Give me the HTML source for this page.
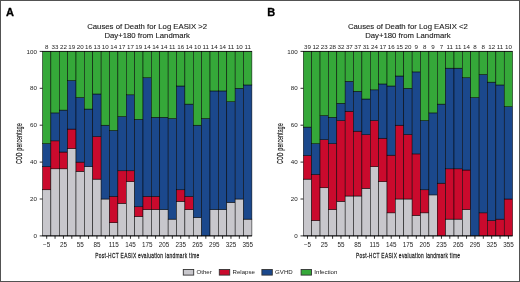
<!DOCTYPE html>
<html><head><meta charset="utf-8"><style>
html,body{margin:0;padding:0;background:#fff;}
body{width:520px;height:282px;overflow:hidden;}
svg{display:block;will-change:transform;}
text{font-family:"Liberation Sans", sans-serif;}
</style></head><body>
<svg width="520" height="282" viewBox="0 0 520 282" font-family="Liberation Sans, sans-serif">
<rect x="0" y="0" width="520" height="282" fill="#fff"/>
<g>
<rect x="42.50" y="189.78" width="8.38" height="46.12" fill="#c8c7cc" stroke="#000" stroke-width="0.5"/>
<rect x="42.50" y="166.71" width="8.38" height="23.06" fill="#ca0a2d" stroke="#000" stroke-width="0.5"/>
<rect x="42.50" y="143.65" width="8.38" height="23.06" fill="#1b488c" stroke="#000" stroke-width="0.5"/>
<rect x="42.50" y="51.40" width="8.38" height="92.25" fill="#35a839" stroke="#000" stroke-width="0.5"/>
<rect x="50.88" y="168.81" width="8.38" height="67.09" fill="#c8c7cc" stroke="#000" stroke-width="0.5"/>
<rect x="50.88" y="140.85" width="8.38" height="27.95" fill="#ca0a2d" stroke="#000" stroke-width="0.5"/>
<rect x="50.88" y="112.90" width="8.38" height="27.95" fill="#1b488c" stroke="#000" stroke-width="0.5"/>
<rect x="50.88" y="51.40" width="8.38" height="61.50" fill="#35a839" stroke="#000" stroke-width="0.5"/>
<rect x="59.25" y="168.81" width="8.38" height="67.09" fill="#c8c7cc" stroke="#000" stroke-width="0.5"/>
<rect x="59.25" y="152.04" width="8.38" height="16.77" fill="#ca0a2d" stroke="#000" stroke-width="0.5"/>
<rect x="59.25" y="110.10" width="8.38" height="41.93" fill="#1b488c" stroke="#000" stroke-width="0.5"/>
<rect x="59.25" y="51.40" width="8.38" height="58.70" fill="#35a839" stroke="#000" stroke-width="0.5"/>
<rect x="67.63" y="148.51" width="8.38" height="87.39" fill="#c8c7cc" stroke="#000" stroke-width="0.5"/>
<rect x="67.63" y="129.08" width="8.38" height="19.42" fill="#ca0a2d" stroke="#000" stroke-width="0.5"/>
<rect x="67.63" y="80.53" width="8.38" height="48.55" fill="#1b488c" stroke="#000" stroke-width="0.5"/>
<rect x="67.63" y="51.40" width="8.38" height="29.13" fill="#35a839" stroke="#000" stroke-width="0.5"/>
<rect x="76.00" y="171.32" width="8.38" height="64.58" fill="#c8c7cc" stroke="#000" stroke-width="0.5"/>
<rect x="76.00" y="162.10" width="8.38" height="9.22" fill="#ca0a2d" stroke="#000" stroke-width="0.5"/>
<rect x="76.00" y="97.53" width="8.38" height="64.58" fill="#1b488c" stroke="#000" stroke-width="0.5"/>
<rect x="76.00" y="51.40" width="8.38" height="46.12" fill="#35a839" stroke="#000" stroke-width="0.5"/>
<rect x="84.38" y="166.71" width="8.38" height="69.19" fill="#c8c7cc" stroke="#000" stroke-width="0.5"/>
<rect x="84.38" y="109.06" width="8.38" height="57.66" fill="#1b488c" stroke="#000" stroke-width="0.5"/>
<rect x="84.38" y="51.40" width="8.38" height="57.66" fill="#35a839" stroke="#000" stroke-width="0.5"/>
<rect x="92.76" y="179.13" width="8.38" height="56.77" fill="#c8c7cc" stroke="#000" stroke-width="0.5"/>
<rect x="92.76" y="136.55" width="8.38" height="42.58" fill="#ca0a2d" stroke="#000" stroke-width="0.5"/>
<rect x="92.76" y="93.98" width="8.38" height="42.58" fill="#1b488c" stroke="#000" stroke-width="0.5"/>
<rect x="92.76" y="51.40" width="8.38" height="42.58" fill="#35a839" stroke="#000" stroke-width="0.5"/>
<rect x="101.13" y="199.00" width="8.38" height="36.90" fill="#c8c7cc" stroke="#000" stroke-width="0.5"/>
<rect x="101.13" y="125.20" width="8.38" height="73.80" fill="#1b488c" stroke="#000" stroke-width="0.5"/>
<rect x="101.13" y="51.40" width="8.38" height="73.80" fill="#35a839" stroke="#000" stroke-width="0.5"/>
<rect x="109.51" y="222.72" width="8.38" height="13.18" fill="#c8c7cc" stroke="#000" stroke-width="0.5"/>
<rect x="109.51" y="196.36" width="8.38" height="26.36" fill="#ca0a2d" stroke="#000" stroke-width="0.5"/>
<rect x="109.51" y="130.47" width="8.38" height="65.89" fill="#1b488c" stroke="#000" stroke-width="0.5"/>
<rect x="109.51" y="51.40" width="8.38" height="79.07" fill="#35a839" stroke="#000" stroke-width="0.5"/>
<rect x="117.88" y="203.34" width="8.38" height="32.56" fill="#c8c7cc" stroke="#000" stroke-width="0.5"/>
<rect x="117.88" y="170.78" width="8.38" height="32.56" fill="#ca0a2d" stroke="#000" stroke-width="0.5"/>
<rect x="117.88" y="116.52" width="8.38" height="54.26" fill="#1b488c" stroke="#000" stroke-width="0.5"/>
<rect x="117.88" y="51.40" width="8.38" height="65.12" fill="#35a839" stroke="#000" stroke-width="0.5"/>
<rect x="126.26" y="181.64" width="8.38" height="54.26" fill="#c8c7cc" stroke="#000" stroke-width="0.5"/>
<rect x="126.26" y="170.78" width="8.38" height="10.85" fill="#ca0a2d" stroke="#000" stroke-width="0.5"/>
<rect x="126.26" y="94.81" width="8.38" height="75.97" fill="#1b488c" stroke="#000" stroke-width="0.5"/>
<rect x="126.26" y="51.40" width="8.38" height="43.41" fill="#35a839" stroke="#000" stroke-width="0.5"/>
<rect x="134.64" y="216.48" width="8.38" height="19.42" fill="#c8c7cc" stroke="#000" stroke-width="0.5"/>
<rect x="134.64" y="206.77" width="8.38" height="9.71" fill="#ca0a2d" stroke="#000" stroke-width="0.5"/>
<rect x="134.64" y="119.37" width="8.38" height="87.39" fill="#1b488c" stroke="#000" stroke-width="0.5"/>
<rect x="134.64" y="51.40" width="8.38" height="67.97" fill="#35a839" stroke="#000" stroke-width="0.5"/>
<rect x="143.01" y="209.54" width="8.38" height="26.36" fill="#c8c7cc" stroke="#000" stroke-width="0.5"/>
<rect x="143.01" y="196.36" width="8.38" height="13.18" fill="#ca0a2d" stroke="#000" stroke-width="0.5"/>
<rect x="143.01" y="77.76" width="8.38" height="118.61" fill="#1b488c" stroke="#000" stroke-width="0.5"/>
<rect x="143.01" y="51.40" width="8.38" height="26.36" fill="#35a839" stroke="#000" stroke-width="0.5"/>
<rect x="151.39" y="209.54" width="8.38" height="26.36" fill="#c8c7cc" stroke="#000" stroke-width="0.5"/>
<rect x="151.39" y="196.36" width="8.38" height="13.18" fill="#ca0a2d" stroke="#000" stroke-width="0.5"/>
<rect x="151.39" y="117.29" width="8.38" height="79.07" fill="#1b488c" stroke="#000" stroke-width="0.5"/>
<rect x="151.39" y="51.40" width="8.38" height="65.89" fill="#35a839" stroke="#000" stroke-width="0.5"/>
<rect x="159.76" y="209.54" width="8.38" height="26.36" fill="#c8c7cc" stroke="#000" stroke-width="0.5"/>
<rect x="159.76" y="117.29" width="8.38" height="92.25" fill="#1b488c" stroke="#000" stroke-width="0.5"/>
<rect x="159.76" y="51.40" width="8.38" height="65.89" fill="#35a839" stroke="#000" stroke-width="0.5"/>
<rect x="168.14" y="219.13" width="8.38" height="16.77" fill="#c8c7cc" stroke="#000" stroke-width="0.5"/>
<rect x="168.14" y="118.49" width="8.38" height="100.64" fill="#1b488c" stroke="#000" stroke-width="0.5"/>
<rect x="168.14" y="51.40" width="8.38" height="67.09" fill="#35a839" stroke="#000" stroke-width="0.5"/>
<rect x="176.52" y="201.31" width="8.38" height="34.59" fill="#c8c7cc" stroke="#000" stroke-width="0.5"/>
<rect x="176.52" y="189.78" width="8.38" height="11.53" fill="#ca0a2d" stroke="#000" stroke-width="0.5"/>
<rect x="176.52" y="85.99" width="8.38" height="103.78" fill="#1b488c" stroke="#000" stroke-width="0.5"/>
<rect x="176.52" y="51.40" width="8.38" height="34.59" fill="#35a839" stroke="#000" stroke-width="0.5"/>
<rect x="184.89" y="209.54" width="8.38" height="26.36" fill="#c8c7cc" stroke="#000" stroke-width="0.5"/>
<rect x="184.89" y="196.36" width="8.38" height="13.18" fill="#ca0a2d" stroke="#000" stroke-width="0.5"/>
<rect x="184.89" y="104.11" width="8.38" height="92.25" fill="#1b488c" stroke="#000" stroke-width="0.5"/>
<rect x="184.89" y="51.40" width="8.38" height="52.71" fill="#35a839" stroke="#000" stroke-width="0.5"/>
<rect x="193.27" y="217.45" width="8.38" height="18.45" fill="#c8c7cc" stroke="#000" stroke-width="0.5"/>
<rect x="193.27" y="125.20" width="8.38" height="92.25" fill="#1b488c" stroke="#000" stroke-width="0.5"/>
<rect x="193.27" y="51.40" width="8.38" height="73.80" fill="#35a839" stroke="#000" stroke-width="0.5"/>
<rect x="201.64" y="118.49" width="8.38" height="117.41" fill="#1b488c" stroke="#000" stroke-width="0.5"/>
<rect x="201.64" y="51.40" width="8.38" height="67.09" fill="#35a839" stroke="#000" stroke-width="0.5"/>
<rect x="210.02" y="209.54" width="8.38" height="26.36" fill="#c8c7cc" stroke="#000" stroke-width="0.5"/>
<rect x="210.02" y="90.94" width="8.38" height="118.61" fill="#1b488c" stroke="#000" stroke-width="0.5"/>
<rect x="210.02" y="51.40" width="8.38" height="39.54" fill="#35a839" stroke="#000" stroke-width="0.5"/>
<rect x="218.40" y="209.54" width="8.38" height="26.36" fill="#c8c7cc" stroke="#000" stroke-width="0.5"/>
<rect x="218.40" y="90.94" width="8.38" height="118.61" fill="#1b488c" stroke="#000" stroke-width="0.5"/>
<rect x="218.40" y="51.40" width="8.38" height="39.54" fill="#35a839" stroke="#000" stroke-width="0.5"/>
<rect x="226.77" y="202.35" width="8.38" height="33.55" fill="#c8c7cc" stroke="#000" stroke-width="0.5"/>
<rect x="226.77" y="101.72" width="8.38" height="100.64" fill="#1b488c" stroke="#000" stroke-width="0.5"/>
<rect x="226.77" y="51.40" width="8.38" height="50.32" fill="#35a839" stroke="#000" stroke-width="0.5"/>
<rect x="235.15" y="199.00" width="8.38" height="36.90" fill="#c8c7cc" stroke="#000" stroke-width="0.5"/>
<rect x="235.15" y="88.30" width="8.38" height="110.70" fill="#1b488c" stroke="#000" stroke-width="0.5"/>
<rect x="235.15" y="51.40" width="8.38" height="36.90" fill="#35a839" stroke="#000" stroke-width="0.5"/>
<rect x="243.52" y="219.13" width="8.38" height="16.77" fill="#c8c7cc" stroke="#000" stroke-width="0.5"/>
<rect x="243.52" y="84.95" width="8.38" height="134.18" fill="#1b488c" stroke="#000" stroke-width="0.5"/>
<rect x="243.52" y="51.40" width="8.38" height="33.55" fill="#35a839" stroke="#000" stroke-width="0.5"/>
<line x1="42.50" y1="235.90" x2="251.90" y2="235.90" stroke="#000" stroke-width="0.9"/>
<line x1="42.50" y1="51.40" x2="251.90" y2="51.40" stroke="#000" stroke-width="0.7"/>
</g>
<text x="46.69" y="48.6" font-size="6.2" text-anchor="middle" fill="#222">8</text>
<text x="55.06" y="48.6" font-size="6.2" text-anchor="middle" fill="#222">33</text>
<text x="63.44" y="48.6" font-size="6.2" text-anchor="middle" fill="#222">22</text>
<text x="71.82" y="48.6" font-size="6.2" text-anchor="middle" fill="#222">19</text>
<text x="80.19" y="48.6" font-size="6.2" text-anchor="middle" fill="#222">20</text>
<text x="88.57" y="48.6" font-size="6.2" text-anchor="middle" fill="#222">16</text>
<text x="96.94" y="48.6" font-size="6.2" text-anchor="middle" fill="#222">13</text>
<text x="105.32" y="48.6" font-size="6.2" text-anchor="middle" fill="#222">10</text>
<text x="113.70" y="48.6" font-size="6.2" text-anchor="middle" fill="#222">14</text>
<text x="122.07" y="48.6" font-size="6.2" text-anchor="middle" fill="#222">17</text>
<text x="130.45" y="48.6" font-size="6.2" text-anchor="middle" fill="#222">17</text>
<text x="138.82" y="48.6" font-size="6.2" text-anchor="middle" fill="#222">19</text>
<text x="147.20" y="48.6" font-size="6.2" text-anchor="middle" fill="#222">14</text>
<text x="155.58" y="48.6" font-size="6.2" text-anchor="middle" fill="#222">14</text>
<text x="163.95" y="48.6" font-size="6.2" text-anchor="middle" fill="#222">14</text>
<text x="172.33" y="48.6" font-size="6.2" text-anchor="middle" fill="#222">11</text>
<text x="180.70" y="48.6" font-size="6.2" text-anchor="middle" fill="#222">16</text>
<text x="189.08" y="48.6" font-size="6.2" text-anchor="middle" fill="#222">14</text>
<text x="197.46" y="48.6" font-size="6.2" text-anchor="middle" fill="#222">10</text>
<text x="205.83" y="48.6" font-size="6.2" text-anchor="middle" fill="#222">11</text>
<text x="214.21" y="48.6" font-size="6.2" text-anchor="middle" fill="#222">14</text>
<text x="222.58" y="48.6" font-size="6.2" text-anchor="middle" fill="#222">14</text>
<text x="230.96" y="48.6" font-size="6.2" text-anchor="middle" fill="#222">11</text>
<text x="239.34" y="48.6" font-size="6.2" text-anchor="middle" fill="#222">10</text>
<text x="247.71" y="48.6" font-size="6.2" text-anchor="middle" fill="#222">11</text>
<line x1="39.70" y1="235.90" x2="42.50" y2="235.90" stroke="#000" stroke-width="0.8"/>
<text x="36.90" y="238.00" font-size="6.2" text-anchor="end" fill="#222">0</text>
<line x1="39.70" y1="199.00" x2="42.50" y2="199.00" stroke="#000" stroke-width="0.8"/>
<text x="36.90" y="201.10" font-size="6.2" text-anchor="end" fill="#222">20</text>
<line x1="39.70" y1="162.10" x2="42.50" y2="162.10" stroke="#000" stroke-width="0.8"/>
<text x="36.90" y="164.20" font-size="6.2" text-anchor="end" fill="#222">40</text>
<line x1="39.70" y1="125.20" x2="42.50" y2="125.20" stroke="#000" stroke-width="0.8"/>
<text x="36.90" y="127.30" font-size="6.2" text-anchor="end" fill="#222">60</text>
<line x1="39.70" y1="88.30" x2="42.50" y2="88.30" stroke="#000" stroke-width="0.8"/>
<text x="36.90" y="90.40" font-size="6.2" text-anchor="end" fill="#222">80</text>
<line x1="39.70" y1="51.40" x2="42.50" y2="51.40" stroke="#000" stroke-width="0.8"/>
<text x="36.90" y="53.50" font-size="6.2" text-anchor="end" fill="#222">100</text>
<line x1="46.69" y1="235.90" x2="46.69" y2="238.80" stroke="#000" stroke-width="0.8"/>
<text x="46.69" y="247.4" font-size="6.3" text-anchor="middle" fill="#222">−5</text>
<line x1="55.06" y1="235.90" x2="55.06" y2="238.80" stroke="#000" stroke-width="0.8"/>
<line x1="63.44" y1="235.90" x2="63.44" y2="238.80" stroke="#000" stroke-width="0.8"/>
<text x="63.44" y="247.4" font-size="6.3" text-anchor="middle" fill="#222">25</text>
<line x1="71.82" y1="235.90" x2="71.82" y2="238.80" stroke="#000" stroke-width="0.8"/>
<line x1="80.19" y1="235.90" x2="80.19" y2="238.80" stroke="#000" stroke-width="0.8"/>
<text x="80.19" y="247.4" font-size="6.3" text-anchor="middle" fill="#222">55</text>
<line x1="88.57" y1="235.90" x2="88.57" y2="238.80" stroke="#000" stroke-width="0.8"/>
<line x1="96.94" y1="235.90" x2="96.94" y2="238.80" stroke="#000" stroke-width="0.8"/>
<text x="96.94" y="247.4" font-size="6.3" text-anchor="middle" fill="#222">85</text>
<line x1="105.32" y1="235.90" x2="105.32" y2="238.80" stroke="#000" stroke-width="0.8"/>
<line x1="113.70" y1="235.90" x2="113.70" y2="238.80" stroke="#000" stroke-width="0.8"/>
<text x="113.70" y="247.4" font-size="6.3" text-anchor="middle" fill="#222">115</text>
<line x1="122.07" y1="235.90" x2="122.07" y2="238.80" stroke="#000" stroke-width="0.8"/>
<line x1="130.45" y1="235.90" x2="130.45" y2="238.80" stroke="#000" stroke-width="0.8"/>
<text x="130.45" y="247.4" font-size="6.3" text-anchor="middle" fill="#222">145</text>
<line x1="138.82" y1="235.90" x2="138.82" y2="238.80" stroke="#000" stroke-width="0.8"/>
<line x1="147.20" y1="235.90" x2="147.20" y2="238.80" stroke="#000" stroke-width="0.8"/>
<text x="147.20" y="247.4" font-size="6.3" text-anchor="middle" fill="#222">175</text>
<line x1="155.58" y1="235.90" x2="155.58" y2="238.80" stroke="#000" stroke-width="0.8"/>
<line x1="163.95" y1="235.90" x2="163.95" y2="238.80" stroke="#000" stroke-width="0.8"/>
<text x="163.95" y="247.4" font-size="6.3" text-anchor="middle" fill="#222">205</text>
<line x1="172.33" y1="235.90" x2="172.33" y2="238.80" stroke="#000" stroke-width="0.8"/>
<line x1="180.70" y1="235.90" x2="180.70" y2="238.80" stroke="#000" stroke-width="0.8"/>
<text x="180.70" y="247.4" font-size="6.3" text-anchor="middle" fill="#222">235</text>
<line x1="189.08" y1="235.90" x2="189.08" y2="238.80" stroke="#000" stroke-width="0.8"/>
<line x1="197.46" y1="235.90" x2="197.46" y2="238.80" stroke="#000" stroke-width="0.8"/>
<text x="197.46" y="247.4" font-size="6.3" text-anchor="middle" fill="#222">265</text>
<line x1="205.83" y1="235.90" x2="205.83" y2="238.80" stroke="#000" stroke-width="0.8"/>
<line x1="214.21" y1="235.90" x2="214.21" y2="238.80" stroke="#000" stroke-width="0.8"/>
<text x="214.21" y="247.4" font-size="6.3" text-anchor="middle" fill="#222">295</text>
<line x1="222.58" y1="235.90" x2="222.58" y2="238.80" stroke="#000" stroke-width="0.8"/>
<line x1="230.96" y1="235.90" x2="230.96" y2="238.80" stroke="#000" stroke-width="0.8"/>
<text x="230.96" y="247.4" font-size="6.3" text-anchor="middle" fill="#222">325</text>
<line x1="239.34" y1="235.90" x2="239.34" y2="238.80" stroke="#000" stroke-width="0.8"/>
<line x1="247.71" y1="235.90" x2="247.71" y2="238.80" stroke="#000" stroke-width="0.8"/>
<text x="247.71" y="247.4" font-size="6.3" text-anchor="middle" fill="#222">355</text>
<text x="147.20" y="28.6" font-size="7.75" text-anchor="middle" fill="#222" stroke="#222" stroke-width="0.12">Causes of Death for Log EASIX &gt;2</text>
<text x="147.20" y="37.8" font-size="7.75" text-anchor="middle" fill="#222" stroke="#222" stroke-width="0.12">Day+180 from Landmark</text>
<text x="0" y="0" font-size="8.6" text-anchor="middle" fill="#222" stroke="#222" stroke-width="0.25" textLength="74.81" lengthAdjust="spacing" transform="translate(22.10,143.65) rotate(-90) scale(0.54,1)">COD percentage</text>
<text x="0" y="0" font-size="8.1" text-anchor="middle" fill="#222" stroke="#222" stroke-width="0.25" textLength="173.33" lengthAdjust="spacing" transform="translate(147.20,258.3) scale(0.6,1)">Post-HCT EASIX evaluation landmark time</text>
<text x="6.00" y="15.8" font-size="11" font-weight="bold" fill="#000" stroke="#000" stroke-width="0.3">A</text>
<g>
<rect x="303.30" y="179.13" width="8.37" height="56.77" fill="#c8c7cc" stroke="#000" stroke-width="0.5"/>
<rect x="303.30" y="155.48" width="8.37" height="23.65" fill="#ca0a2d" stroke="#000" stroke-width="0.5"/>
<rect x="303.30" y="127.09" width="8.37" height="28.38" fill="#1b488c" stroke="#000" stroke-width="0.5"/>
<rect x="303.30" y="51.40" width="8.37" height="75.69" fill="#35a839" stroke="#000" stroke-width="0.5"/>
<rect x="311.67" y="220.53" width="8.37" height="15.38" fill="#c8c7cc" stroke="#000" stroke-width="0.5"/>
<rect x="311.67" y="174.40" width="8.37" height="46.12" fill="#ca0a2d" stroke="#000" stroke-width="0.5"/>
<rect x="311.67" y="143.65" width="8.37" height="30.75" fill="#1b488c" stroke="#000" stroke-width="0.5"/>
<rect x="311.67" y="51.40" width="8.37" height="92.25" fill="#35a839" stroke="#000" stroke-width="0.5"/>
<rect x="320.04" y="187.77" width="8.37" height="48.13" fill="#c8c7cc" stroke="#000" stroke-width="0.5"/>
<rect x="320.04" y="139.64" width="8.37" height="48.13" fill="#ca0a2d" stroke="#000" stroke-width="0.5"/>
<rect x="320.04" y="115.57" width="8.37" height="24.07" fill="#1b488c" stroke="#000" stroke-width="0.5"/>
<rect x="320.04" y="51.40" width="8.37" height="64.17" fill="#35a839" stroke="#000" stroke-width="0.5"/>
<rect x="328.42" y="209.54" width="8.37" height="26.36" fill="#c8c7cc" stroke="#000" stroke-width="0.5"/>
<rect x="328.42" y="143.65" width="8.37" height="65.89" fill="#ca0a2d" stroke="#000" stroke-width="0.5"/>
<rect x="328.42" y="117.29" width="8.37" height="26.36" fill="#1b488c" stroke="#000" stroke-width="0.5"/>
<rect x="328.42" y="51.40" width="8.37" height="65.89" fill="#35a839" stroke="#000" stroke-width="0.5"/>
<rect x="336.79" y="201.31" width="8.37" height="34.59" fill="#c8c7cc" stroke="#000" stroke-width="0.5"/>
<rect x="336.79" y="120.59" width="8.37" height="80.72" fill="#ca0a2d" stroke="#000" stroke-width="0.5"/>
<rect x="336.79" y="103.29" width="8.37" height="17.30" fill="#1b488c" stroke="#000" stroke-width="0.5"/>
<rect x="336.79" y="51.40" width="8.37" height="51.89" fill="#35a839" stroke="#000" stroke-width="0.5"/>
<rect x="345.16" y="196.01" width="8.37" height="39.89" fill="#c8c7cc" stroke="#000" stroke-width="0.5"/>
<rect x="345.16" y="111.24" width="8.37" height="84.77" fill="#ca0a2d" stroke="#000" stroke-width="0.5"/>
<rect x="345.16" y="81.32" width="8.37" height="29.92" fill="#1b488c" stroke="#000" stroke-width="0.5"/>
<rect x="345.16" y="51.40" width="8.37" height="29.92" fill="#35a839" stroke="#000" stroke-width="0.5"/>
<rect x="353.53" y="196.01" width="8.37" height="39.89" fill="#c8c7cc" stroke="#000" stroke-width="0.5"/>
<rect x="353.53" y="131.18" width="8.37" height="64.82" fill="#ca0a2d" stroke="#000" stroke-width="0.5"/>
<rect x="353.53" y="91.29" width="8.37" height="39.89" fill="#1b488c" stroke="#000" stroke-width="0.5"/>
<rect x="353.53" y="51.40" width="8.37" height="39.89" fill="#35a839" stroke="#000" stroke-width="0.5"/>
<rect x="361.90" y="188.29" width="8.37" height="47.61" fill="#c8c7cc" stroke="#000" stroke-width="0.5"/>
<rect x="361.90" y="134.72" width="8.37" height="53.56" fill="#ca0a2d" stroke="#000" stroke-width="0.5"/>
<rect x="361.90" y="99.01" width="8.37" height="35.71" fill="#1b488c" stroke="#000" stroke-width="0.5"/>
<rect x="361.90" y="51.40" width="8.37" height="47.61" fill="#35a839" stroke="#000" stroke-width="0.5"/>
<rect x="370.28" y="166.71" width="8.37" height="69.19" fill="#c8c7cc" stroke="#000" stroke-width="0.5"/>
<rect x="370.28" y="120.59" width="8.37" height="46.12" fill="#ca0a2d" stroke="#000" stroke-width="0.5"/>
<rect x="370.28" y="89.84" width="8.37" height="30.75" fill="#1b488c" stroke="#000" stroke-width="0.5"/>
<rect x="370.28" y="51.40" width="8.37" height="38.44" fill="#35a839" stroke="#000" stroke-width="0.5"/>
<rect x="378.65" y="181.64" width="8.37" height="54.26" fill="#c8c7cc" stroke="#000" stroke-width="0.5"/>
<rect x="378.65" y="138.22" width="8.37" height="43.41" fill="#ca0a2d" stroke="#000" stroke-width="0.5"/>
<rect x="378.65" y="83.96" width="8.37" height="54.26" fill="#1b488c" stroke="#000" stroke-width="0.5"/>
<rect x="378.65" y="51.40" width="8.37" height="32.56" fill="#35a839" stroke="#000" stroke-width="0.5"/>
<rect x="387.02" y="212.84" width="8.37" height="23.06" fill="#c8c7cc" stroke="#000" stroke-width="0.5"/>
<rect x="387.02" y="155.18" width="8.37" height="57.66" fill="#ca0a2d" stroke="#000" stroke-width="0.5"/>
<rect x="387.02" y="85.99" width="8.37" height="69.19" fill="#1b488c" stroke="#000" stroke-width="0.5"/>
<rect x="387.02" y="51.40" width="8.37" height="34.59" fill="#35a839" stroke="#000" stroke-width="0.5"/>
<rect x="395.39" y="199.00" width="8.37" height="36.90" fill="#c8c7cc" stroke="#000" stroke-width="0.5"/>
<rect x="395.39" y="125.20" width="8.37" height="73.80" fill="#ca0a2d" stroke="#000" stroke-width="0.5"/>
<rect x="395.39" y="76.00" width="8.37" height="49.20" fill="#1b488c" stroke="#000" stroke-width="0.5"/>
<rect x="395.39" y="51.40" width="8.37" height="24.60" fill="#35a839" stroke="#000" stroke-width="0.5"/>
<rect x="403.76" y="199.00" width="8.37" height="36.90" fill="#c8c7cc" stroke="#000" stroke-width="0.5"/>
<rect x="403.76" y="134.43" width="8.37" height="64.57" fill="#ca0a2d" stroke="#000" stroke-width="0.5"/>
<rect x="403.76" y="88.30" width="8.37" height="46.12" fill="#1b488c" stroke="#000" stroke-width="0.5"/>
<rect x="403.76" y="51.40" width="8.37" height="36.90" fill="#35a839" stroke="#000" stroke-width="0.5"/>
<rect x="412.14" y="215.40" width="8.37" height="20.50" fill="#c8c7cc" stroke="#000" stroke-width="0.5"/>
<rect x="412.14" y="153.90" width="8.37" height="61.50" fill="#ca0a2d" stroke="#000" stroke-width="0.5"/>
<rect x="412.14" y="71.90" width="8.37" height="82.00" fill="#1b488c" stroke="#000" stroke-width="0.5"/>
<rect x="412.14" y="51.40" width="8.37" height="20.50" fill="#35a839" stroke="#000" stroke-width="0.5"/>
<rect x="420.51" y="212.84" width="8.37" height="23.06" fill="#c8c7cc" stroke="#000" stroke-width="0.5"/>
<rect x="420.51" y="189.78" width="8.37" height="23.06" fill="#ca0a2d" stroke="#000" stroke-width="0.5"/>
<rect x="420.51" y="120.59" width="8.37" height="69.19" fill="#1b488c" stroke="#000" stroke-width="0.5"/>
<rect x="420.51" y="51.40" width="8.37" height="69.19" fill="#35a839" stroke="#000" stroke-width="0.5"/>
<rect x="428.88" y="194.90" width="8.37" height="41.00" fill="#c8c7cc" stroke="#000" stroke-width="0.5"/>
<rect x="428.88" y="112.90" width="8.37" height="82.00" fill="#1b488c" stroke="#000" stroke-width="0.5"/>
<rect x="428.88" y="51.40" width="8.37" height="61.50" fill="#35a839" stroke="#000" stroke-width="0.5"/>
<rect x="437.25" y="183.19" width="8.37" height="52.71" fill="#ca0a2d" stroke="#000" stroke-width="0.5"/>
<rect x="437.25" y="104.11" width="8.37" height="79.07" fill="#1b488c" stroke="#000" stroke-width="0.5"/>
<rect x="437.25" y="51.40" width="8.37" height="52.71" fill="#35a839" stroke="#000" stroke-width="0.5"/>
<rect x="445.62" y="219.13" width="8.37" height="16.77" fill="#c8c7cc" stroke="#000" stroke-width="0.5"/>
<rect x="445.62" y="168.81" width="8.37" height="50.32" fill="#ca0a2d" stroke="#000" stroke-width="0.5"/>
<rect x="445.62" y="68.17" width="8.37" height="100.64" fill="#1b488c" stroke="#000" stroke-width="0.5"/>
<rect x="445.62" y="51.40" width="8.37" height="16.77" fill="#35a839" stroke="#000" stroke-width="0.5"/>
<rect x="454.00" y="219.13" width="8.37" height="16.77" fill="#c8c7cc" stroke="#000" stroke-width="0.5"/>
<rect x="454.00" y="168.81" width="8.37" height="50.32" fill="#ca0a2d" stroke="#000" stroke-width="0.5"/>
<rect x="454.00" y="68.17" width="8.37" height="100.64" fill="#1b488c" stroke="#000" stroke-width="0.5"/>
<rect x="454.00" y="51.40" width="8.37" height="16.77" fill="#35a839" stroke="#000" stroke-width="0.5"/>
<rect x="462.37" y="209.54" width="8.37" height="26.36" fill="#c8c7cc" stroke="#000" stroke-width="0.5"/>
<rect x="462.37" y="170.01" width="8.37" height="39.54" fill="#ca0a2d" stroke="#000" stroke-width="0.5"/>
<rect x="462.37" y="77.76" width="8.37" height="92.25" fill="#1b488c" stroke="#000" stroke-width="0.5"/>
<rect x="462.37" y="51.40" width="8.37" height="26.36" fill="#35a839" stroke="#000" stroke-width="0.5"/>
<rect x="470.74" y="97.53" width="8.37" height="138.38" fill="#1b488c" stroke="#000" stroke-width="0.5"/>
<rect x="470.74" y="51.40" width="8.37" height="46.12" fill="#35a839" stroke="#000" stroke-width="0.5"/>
<rect x="479.11" y="212.84" width="8.37" height="23.06" fill="#ca0a2d" stroke="#000" stroke-width="0.5"/>
<rect x="479.11" y="74.46" width="8.37" height="138.38" fill="#1b488c" stroke="#000" stroke-width="0.5"/>
<rect x="479.11" y="51.40" width="8.37" height="23.06" fill="#35a839" stroke="#000" stroke-width="0.5"/>
<rect x="487.48" y="220.53" width="8.37" height="15.38" fill="#ca0a2d" stroke="#000" stroke-width="0.5"/>
<rect x="487.48" y="82.15" width="8.37" height="138.38" fill="#1b488c" stroke="#000" stroke-width="0.5"/>
<rect x="487.48" y="51.40" width="8.37" height="30.75" fill="#35a839" stroke="#000" stroke-width="0.5"/>
<rect x="495.86" y="219.13" width="8.37" height="16.77" fill="#ca0a2d" stroke="#000" stroke-width="0.5"/>
<rect x="495.86" y="84.95" width="8.37" height="134.18" fill="#1b488c" stroke="#000" stroke-width="0.5"/>
<rect x="495.86" y="51.40" width="8.37" height="33.55" fill="#35a839" stroke="#000" stroke-width="0.5"/>
<rect x="504.23" y="199.00" width="8.37" height="36.90" fill="#ca0a2d" stroke="#000" stroke-width="0.5"/>
<rect x="504.23" y="106.75" width="8.37" height="92.25" fill="#1b488c" stroke="#000" stroke-width="0.5"/>
<rect x="504.23" y="51.40" width="8.37" height="55.35" fill="#35a839" stroke="#000" stroke-width="0.5"/>
<line x1="303.30" y1="235.90" x2="512.60" y2="235.90" stroke="#000" stroke-width="0.9"/>
<line x1="303.30" y1="51.40" x2="512.60" y2="51.40" stroke="#000" stroke-width="0.7"/>
</g>
<text x="307.49" y="48.6" font-size="6.2" text-anchor="middle" fill="#222">39</text>
<text x="315.86" y="48.6" font-size="6.2" text-anchor="middle" fill="#222">12</text>
<text x="324.23" y="48.6" font-size="6.2" text-anchor="middle" fill="#222">23</text>
<text x="332.60" y="48.6" font-size="6.2" text-anchor="middle" fill="#222">28</text>
<text x="340.97" y="48.6" font-size="6.2" text-anchor="middle" fill="#222">32</text>
<text x="349.35" y="48.6" font-size="6.2" text-anchor="middle" fill="#222">37</text>
<text x="357.72" y="48.6" font-size="6.2" text-anchor="middle" fill="#222">37</text>
<text x="366.09" y="48.6" font-size="6.2" text-anchor="middle" fill="#222">31</text>
<text x="374.46" y="48.6" font-size="6.2" text-anchor="middle" fill="#222">24</text>
<text x="382.83" y="48.6" font-size="6.2" text-anchor="middle" fill="#222">17</text>
<text x="391.21" y="48.6" font-size="6.2" text-anchor="middle" fill="#222">16</text>
<text x="399.58" y="48.6" font-size="6.2" text-anchor="middle" fill="#222">15</text>
<text x="407.95" y="48.6" font-size="6.2" text-anchor="middle" fill="#222">20</text>
<text x="416.32" y="48.6" font-size="6.2" text-anchor="middle" fill="#222">9</text>
<text x="424.69" y="48.6" font-size="6.2" text-anchor="middle" fill="#222">8</text>
<text x="433.07" y="48.6" font-size="6.2" text-anchor="middle" fill="#222">9</text>
<text x="441.44" y="48.6" font-size="6.2" text-anchor="middle" fill="#222">7</text>
<text x="449.81" y="48.6" font-size="6.2" text-anchor="middle" fill="#222">11</text>
<text x="458.18" y="48.6" font-size="6.2" text-anchor="middle" fill="#222">11</text>
<text x="466.55" y="48.6" font-size="6.2" text-anchor="middle" fill="#222">14</text>
<text x="474.93" y="48.6" font-size="6.2" text-anchor="middle" fill="#222">8</text>
<text x="483.30" y="48.6" font-size="6.2" text-anchor="middle" fill="#222">8</text>
<text x="491.67" y="48.6" font-size="6.2" text-anchor="middle" fill="#222">12</text>
<text x="500.04" y="48.6" font-size="6.2" text-anchor="middle" fill="#222">11</text>
<text x="508.41" y="48.6" font-size="6.2" text-anchor="middle" fill="#222">10</text>
<line x1="300.50" y1="235.90" x2="303.30" y2="235.90" stroke="#000" stroke-width="0.8"/>
<text x="297.70" y="238.00" font-size="6.2" text-anchor="end" fill="#222">0</text>
<line x1="300.50" y1="199.00" x2="303.30" y2="199.00" stroke="#000" stroke-width="0.8"/>
<text x="297.70" y="201.10" font-size="6.2" text-anchor="end" fill="#222">20</text>
<line x1="300.50" y1="162.10" x2="303.30" y2="162.10" stroke="#000" stroke-width="0.8"/>
<text x="297.70" y="164.20" font-size="6.2" text-anchor="end" fill="#222">40</text>
<line x1="300.50" y1="125.20" x2="303.30" y2="125.20" stroke="#000" stroke-width="0.8"/>
<text x="297.70" y="127.30" font-size="6.2" text-anchor="end" fill="#222">60</text>
<line x1="300.50" y1="88.30" x2="303.30" y2="88.30" stroke="#000" stroke-width="0.8"/>
<text x="297.70" y="90.40" font-size="6.2" text-anchor="end" fill="#222">80</text>
<line x1="300.50" y1="51.40" x2="303.30" y2="51.40" stroke="#000" stroke-width="0.8"/>
<text x="297.70" y="53.50" font-size="6.2" text-anchor="end" fill="#222">100</text>
<line x1="307.49" y1="235.90" x2="307.49" y2="238.80" stroke="#000" stroke-width="0.8"/>
<text x="307.49" y="247.4" font-size="6.3" text-anchor="middle" fill="#222">−5</text>
<line x1="315.86" y1="235.90" x2="315.86" y2="238.80" stroke="#000" stroke-width="0.8"/>
<line x1="324.23" y1="235.90" x2="324.23" y2="238.80" stroke="#000" stroke-width="0.8"/>
<text x="324.23" y="247.4" font-size="6.3" text-anchor="middle" fill="#222">25</text>
<line x1="332.60" y1="235.90" x2="332.60" y2="238.80" stroke="#000" stroke-width="0.8"/>
<line x1="340.97" y1="235.90" x2="340.97" y2="238.80" stroke="#000" stroke-width="0.8"/>
<text x="340.97" y="247.4" font-size="6.3" text-anchor="middle" fill="#222">55</text>
<line x1="349.35" y1="235.90" x2="349.35" y2="238.80" stroke="#000" stroke-width="0.8"/>
<line x1="357.72" y1="235.90" x2="357.72" y2="238.80" stroke="#000" stroke-width="0.8"/>
<text x="357.72" y="247.4" font-size="6.3" text-anchor="middle" fill="#222">85</text>
<line x1="366.09" y1="235.90" x2="366.09" y2="238.80" stroke="#000" stroke-width="0.8"/>
<line x1="374.46" y1="235.90" x2="374.46" y2="238.80" stroke="#000" stroke-width="0.8"/>
<text x="374.46" y="247.4" font-size="6.3" text-anchor="middle" fill="#222">115</text>
<line x1="382.83" y1="235.90" x2="382.83" y2="238.80" stroke="#000" stroke-width="0.8"/>
<line x1="391.21" y1="235.90" x2="391.21" y2="238.80" stroke="#000" stroke-width="0.8"/>
<text x="391.21" y="247.4" font-size="6.3" text-anchor="middle" fill="#222">145</text>
<line x1="399.58" y1="235.90" x2="399.58" y2="238.80" stroke="#000" stroke-width="0.8"/>
<line x1="407.95" y1="235.90" x2="407.95" y2="238.80" stroke="#000" stroke-width="0.8"/>
<text x="407.95" y="247.4" font-size="6.3" text-anchor="middle" fill="#222">175</text>
<line x1="416.32" y1="235.90" x2="416.32" y2="238.80" stroke="#000" stroke-width="0.8"/>
<line x1="424.69" y1="235.90" x2="424.69" y2="238.80" stroke="#000" stroke-width="0.8"/>
<text x="424.69" y="247.4" font-size="6.3" text-anchor="middle" fill="#222">205</text>
<line x1="433.07" y1="235.90" x2="433.07" y2="238.80" stroke="#000" stroke-width="0.8"/>
<line x1="441.44" y1="235.90" x2="441.44" y2="238.80" stroke="#000" stroke-width="0.8"/>
<text x="441.44" y="247.4" font-size="6.3" text-anchor="middle" fill="#222">235</text>
<line x1="449.81" y1="235.90" x2="449.81" y2="238.80" stroke="#000" stroke-width="0.8"/>
<line x1="458.18" y1="235.90" x2="458.18" y2="238.80" stroke="#000" stroke-width="0.8"/>
<text x="458.18" y="247.4" font-size="6.3" text-anchor="middle" fill="#222">265</text>
<line x1="466.55" y1="235.90" x2="466.55" y2="238.80" stroke="#000" stroke-width="0.8"/>
<line x1="474.93" y1="235.90" x2="474.93" y2="238.80" stroke="#000" stroke-width="0.8"/>
<text x="474.93" y="247.4" font-size="6.3" text-anchor="middle" fill="#222">295</text>
<line x1="483.30" y1="235.90" x2="483.30" y2="238.80" stroke="#000" stroke-width="0.8"/>
<line x1="491.67" y1="235.90" x2="491.67" y2="238.80" stroke="#000" stroke-width="0.8"/>
<text x="491.67" y="247.4" font-size="6.3" text-anchor="middle" fill="#222">325</text>
<line x1="500.04" y1="235.90" x2="500.04" y2="238.80" stroke="#000" stroke-width="0.8"/>
<line x1="508.41" y1="235.90" x2="508.41" y2="238.80" stroke="#000" stroke-width="0.8"/>
<text x="508.41" y="247.4" font-size="6.3" text-anchor="middle" fill="#222">355</text>
<text x="407.95" y="28.6" font-size="7.75" text-anchor="middle" fill="#222" stroke="#222" stroke-width="0.12">Causes of Death for Log EASIX &lt;2</text>
<text x="407.95" y="37.8" font-size="7.75" text-anchor="middle" fill="#222" stroke="#222" stroke-width="0.12">Day+180 from Landmark</text>
<text x="0" y="0" font-size="8.6" text-anchor="middle" fill="#222" stroke="#222" stroke-width="0.25" textLength="74.81" lengthAdjust="spacing" transform="translate(282.90,143.65) rotate(-90) scale(0.54,1)">COD percentage</text>
<text x="0" y="0" font-size="8.1" text-anchor="middle" fill="#222" stroke="#222" stroke-width="0.25" textLength="173.33" lengthAdjust="spacing" transform="translate(407.95,258.3) scale(0.6,1)">Post-HCT EASIX evaluation landmark time</text>
<text x="267.20" y="15.8" font-size="11" font-weight="bold" fill="#000" stroke="#000" stroke-width="0.3">B</text>
<rect x="183.30" y="269.5" width="10.4" height="5.6" fill="#c8c7cc" stroke="#333" stroke-width="0.9"/>
<text x="196.50" y="274.4" font-size="6.1" fill="#222">Other</text>
<rect x="219.30" y="269.5" width="10.4" height="5.6" fill="#ca0a2d" stroke="#333" stroke-width="0.9"/>
<text x="232.50" y="274.4" font-size="6.1" fill="#222">Relapse</text>
<rect x="261.90" y="269.5" width="10.4" height="5.6" fill="#1b488c" stroke="#333" stroke-width="0.9"/>
<text x="275.10" y="274.4" font-size="6.1" fill="#222">GVHD</text>
<rect x="301.10" y="269.5" width="10.4" height="5.6" fill="#35a839" stroke="#333" stroke-width="0.9"/>
<text x="314.30" y="274.4" font-size="6.1" fill="#222">Infection</text>
<rect x="0.5" y="0.5" width="519" height="281" fill="none" stroke="#525252" stroke-width="1"/>
</svg>
</body></html>
